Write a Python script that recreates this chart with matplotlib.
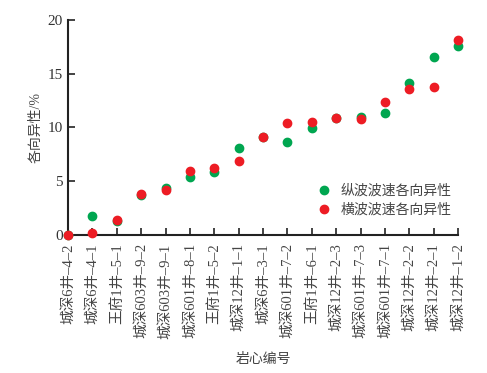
import matplotlib
matplotlib.use("Agg")
import matplotlib.pyplot as plt

samples = ["城深6井–4–2", "城深6井–4–1", "王府1井–5–1", "城深603井–9–2", "城深603井–9–1",
           "城深601井–8–1", "王府1井–5–2", "城深12井–1–1", "城深6井–3–1", "城深601井–7–2",
           "王府1井–6–1", "城深12井–2–3", "城深601井–7–3", "城深601井–7–1", "城深12井–2–2",
           "城深12井–2–1", "城深12井–1–2"]
vp_aniso = [0.0, 1.77, 1.33, 3.75, 4.34, 5.37, 5.89, 8.09, 9.09, 8.65,
            9.92, 10.85, 11.0, 11.35, 14.17, 16.56, 17.61]
vs_aniso = [0.0, 0.15, 1.35, 3.81, 4.19, 5.92, 6.2, 6.85, 9.09, 10.39,
            10.48, 10.85, 10.76, 12.37, 13.58, 13.8, 18.1]

fam = ["Liberation Serif", "Noto Sans CJK SC"]
plt.rcParams["font.family"] = fam

fig = plt.figure(figsize=(4.87, 3.73), dpi=100)
ax = fig.add_axes([0.1396, 0.37, 0.801, 0.5764])

x = list(range(len(samples)))
ax.plot(x, vp_aniso, "o", color="#00a650", markersize=6, clip_on=False,
        zorder=3, label="纵波波速各向异性")
ax.plot(x, vs_aniso, "o", color="#ed1c24", markersize=6, clip_on=False,
        zorder=4, label="横波波速各向异性")

ax.set_xlim(0, len(samples) - 1)
ax.set_ylim(0, 20)
ax.set_yticks([0, 5, 10, 15, 20])
ax.set_xticks(x)
ax.set_xticklabels(samples, rotation=90, fontsize=10.5, color="#444444")
ax.tick_params(axis="both", direction="in", length=5, width=1.2, colors="#222222")
ax.tick_params(axis="y", labelsize=11, labelcolor="#333333")
ax.tick_params(axis="x", pad=6, labelcolor="#444444")

for s in ["top", "right"]:
    ax.spines[s].set_visible(False)
for s in ["left", "bottom"]:
    ax.spines[s].set_linewidth(1.5)
    ax.spines[s].set_color("#222222")

ax.set_ylabel("各向异性/%", fontsize=10, color="#444444", labelpad=4)
ax.set_xlabel("岩心编号", fontsize=10, color="#444444", labelpad=10)

ax.legend(loc="lower right", bbox_to_anchor=(1.015, 0.025), frameon=False,
          fontsize=10, handletextpad=0.2, labelspacing=0.45, markerscale=1.0,
          labelcolor="#444444")

plt.savefig("out.png", dpi=100)
